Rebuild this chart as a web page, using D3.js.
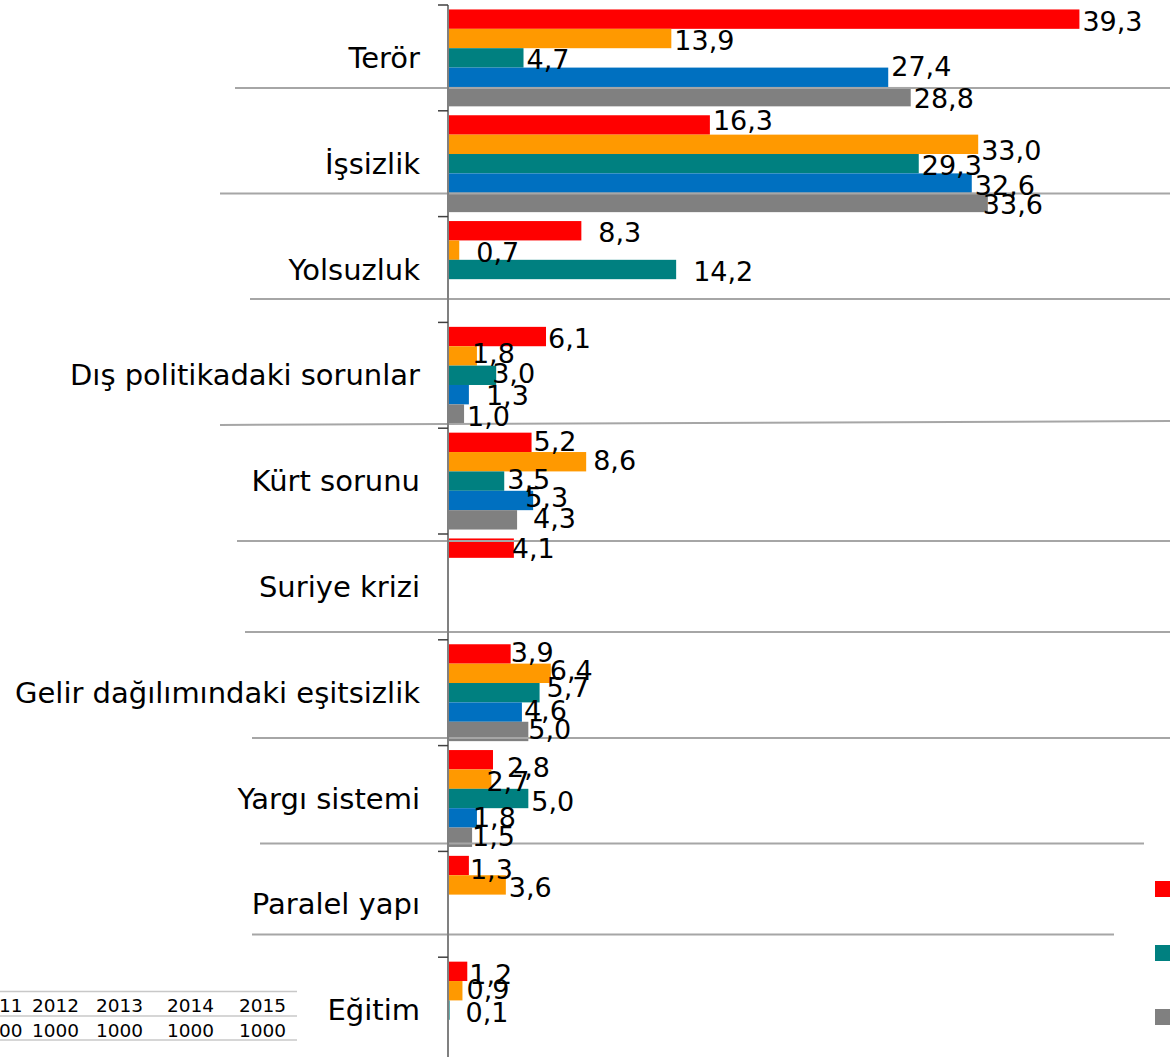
<!DOCTYPE html>
<html>
<head>
<meta charset="utf-8">
<script src="https://cdn.jsdelivr.net/npm/d3@7"></script>
<style>
  body { margin: 0; background: #fff; }
  svg { display: block; font-family: "DejaVu Sans", Verdana, sans-serif; }
</style>
</head>
<body>
<svg id="chart"></svg>
<script>
// categories (top to bottom) and one series per survey year
var categories = ["Terör", "İşsizlik", "Yolsuzluk", "Dış politikadaki sorunlar", "Kürt sorunu",
  "Suriye krizi", "Gelir dağılımındaki eşitsizlik", "Yargı sistemi", "Paralel yapı", "Eğitim"];
var years = ["2011", "2012", "2013", "2014", "2015"];
var sampleSize = [1000, 1000, 1000, 1000, 1000];

var v2011 = [39.3, 16.3, 8.3, 6.1, 5.2, 4.1, 3.9, 2.8, 1.3, 1.2];
var v2012 = [13.9, 33.0, 0.7, 1.8, 8.6, null, 6.4, 2.7, 3.6, 0.9];
var v2013 = [4.7, 29.3, 14.2, 3.0, 3.5, null, 5.7, 5.0, null, 0.1];
var v2014 = [27.4, 32.6, null, 1.3, 5.3, null, 4.6, 1.8, null, null];
var v2015 = [28.8, 33.6, null, 1.0, 4.3, null, 5.0, 1.5, null, null];
var seriesValues = [v2011, v2012, v2013, v2014, v2015];

var colors = ["#ff0000", "#ff9900", "#008080", "#0070c0", "#808080"];

var width = 1170, height = 1057;
var svg = d3.select("#chart").attr("width", width).attr("height", height);

var fmt = d3.formatLocale({decimal: ",", thousands: ".", grouping: [3]}).format(".1f");

var axisX = 448;
var x = d3.scaleLinear().domain([0, 45]).range([axisX, 1171]);
var y = d3.scaleBand().domain(categories).range([5, 1063]);
var yInner = d3.scaleBand().domain(years).range([0, y.bandwidth()]).paddingOuter(0.23);

// hand placement of data labels the way the original had them (category index-series index: [dx, dy])
var labelNudge = {
  "0-3": [0, -13], "1-0": [0, -6], "1-1": [0, 4], "1-4": [-8, 0],
  "2-0": [14, 0], "2-1": [14, 0], "2-2": [14, 0],
  "3-0": [-1, 0], "3-1": [-8, -4], "3-2": [-7, -4], "3-3": [14, -1],
  "4-0": [-1, -3], "4-1": [4, -3], "4-2": [0, -4], "4-3": [-11, -5], "4-4": [13, -3],
  "5-0": [-5, -2],
  "6-0": [-3, -3], "6-1": [-4, -5], "6-2": [4, -7], "6-3": [-1, -4], "6-4": [-3, -4],
  "7-0": [11, 6], "7-1": [-8, 0], "7-2": [0, 1], "7-3": [-7, -2], "7-4": [-3, -3],
  "8-0": [-2, 2], "8-1": [0, 1],
  "9-0": [-1, 1], "9-1": [1, -3], "9-2": [13, 0]
};

// flat list of bars
var bars = [];
categories.forEach(function(c, ci) {
  years.forEach(function(yr, si) {
    var v = seriesValues[si][ci];
    if (v != null) bars.push({cat: c, ci: ci, year: yr, si: si, value: v});
  });
});

// gray divider lines left over from the slide layout
var dividers = [
  {x1: 235, y1: 88, x2: 1170, y2: 88},
  {x1: 220, y1: 193.5, x2: 1170, y2: 193.5},
  {x1: 250, y1: 299, x2: 1170, y2: 299},
  {x1: 220, y1: 425, x2: 1170, y2: 421},
  {x1: 237, y1: 541, x2: 1170, y2: 541},
  {x1: 245, y1: 632, x2: 1170, y2: 632},
  {x1: 252, y1: 738, x2: 1170, y2: 738},
  {x1: 260, y1: 843.5, x2: 1144, y2: 843.5},
  {x1: 252, y1: 934.5, x2: 1114, y2: 934.5}
];

// bars
svg.append("g").selectAll("rect").data(bars).enter().append("rect")
  .attr("x", axisX)
  .attr("y", function(d) { return y(d.cat) + yInner(d.year); })
  .attr("width", function(d) { return x(d.value) - axisX; })
  .attr("height", yInner.bandwidth())
  .attr("fill", function(d) { return colors[d.si]; });

// divider lines
svg.append("g").selectAll("line").data(dividers).enter().append("line")
  .attr("x1", function(d) { return d.x1; }).attr("y1", function(d) { return d.y1; })
  .attr("x2", function(d) { return d.x2; }).attr("y2", function(d) { return d.y2; })
  .attr("stroke", "#a6a6a6").attr("stroke-width", 2);

// category axis: line, ticks at band edges, labels
svg.append("line")
  .attr("x1", axisX).attr("x2", axisX).attr("y1", 5).attr("y2", height)
  .attr("stroke", "#808080").attr("stroke-width", 2);

svg.append("g").selectAll("line").data(categories).enter().append("line")
  .attr("x1", axisX - 10).attr("x2", axisX)
  .attr("y1", function(d) { return y(d); }).attr("y2", function(d) { return y(d); })
  .attr("stroke", "#404040").attr("stroke-width", 1.5);

svg.append("g").selectAll("text").data(categories).enter().append("text")
  .attr("x", 420)
  .attr("y", function(d) { return y(d) + y.bandwidth() / 2; })
  .attr("dy", "0.35em")
  .attr("text-anchor", "end")
  .attr("font-size", 29)
  .attr("fill", "#000")
  .text(function(d) { return d; });

// value labels
svg.append("g").selectAll("text").data(bars).enter().append("text")
  .attr("x", function(d) {
    var n = labelNudge[d.ci + "-" + d.si] || [0, 0];
    return x(d.value) + 3 + n[0];
  })
  .attr("y", function(d) {
    var n = labelNudge[d.ci + "-" + d.si] || [0, 0];
    return y(d.cat) + yInner(d.year) + yInner.bandwidth() / 2 + 2 + n[1];
  })
  .attr("dy", "0.35em")
  .attr("font-size", 27)
  .attr("fill", "#000")
  .text(function(d) { return fmt(d.value); });

// legend keys (the labels fall outside the visible area)
svg.append("g").selectAll("rect").data(years).enter().append("rect")
  .attr("x", function(d, i) { return 1155 + (i % 2) * 120; })
  .attr("y", function(d, i) { return 881 + Math.floor(i / 2) * 64; })
  .attr("width", 16).attr("height", 16)
  .attr("fill", function(d, i) { return colors[i]; });

// data table fragment bottom-left (first column runs off the left edge)
var tx = d3.scaleOrdinal().domain(years).range([-1, 55.5, 119.5, 190.5, 262.5]);
var table = svg.append("g");
[991.5, 1016, 1040].forEach(function(ly) {
  table.append("line").attr("x1", 0).attr("x2", 297).attr("y1", ly).attr("y2", ly)
    .attr("stroke", "#c8c8c8").attr("stroke-width", 1.5);
});
table.selectAll("text.yr").data(years).enter().append("text")
  .attr("class", "yr")
  .attr("x", function(d) { return tx(d); }).attr("y", 1011.5)
  .attr("text-anchor", "middle").attr("font-size", 18.5)
  .text(function(d) { return d; });
table.selectAll("text.n").data(sampleSize).enter().append("text")
  .attr("class", "n")
  .attr("x", function(d, i) { return tx(years[i]); }).attr("y", 1036.5)
  .attr("text-anchor", "middle").attr("font-size", 18.5)
  .text(function(d) { return d; });
</script>
</body>
</html>
